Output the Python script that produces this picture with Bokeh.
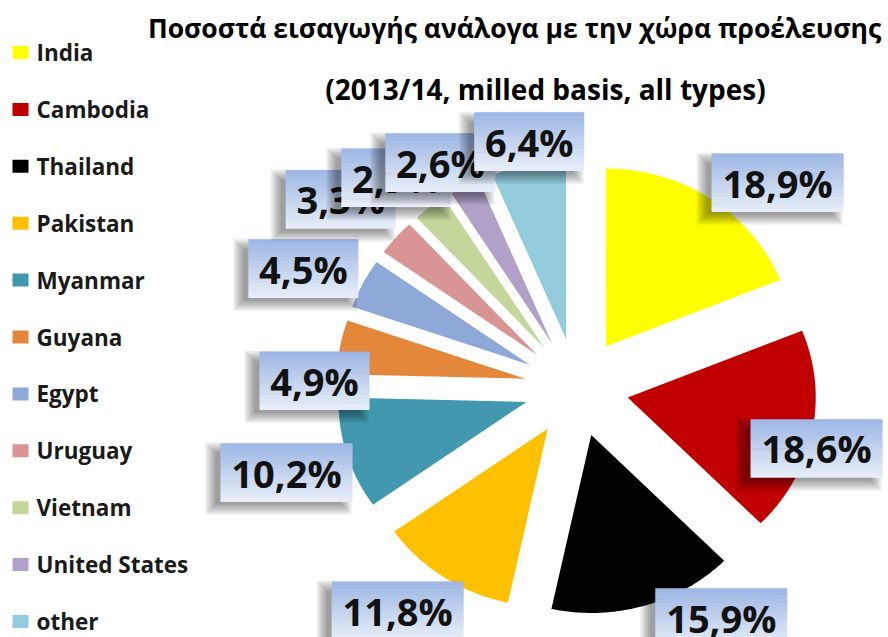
import numpy as np
from bokeh.plotting import figure
from bokeh.models import Range1d
from bokeh.core.properties import value
from bokeh.embed import file_html
from bokeh.resources import INLINE

# ---------------- data ----------------
countries = ["India", "Cambodia", "Thailand", "Pakistan", "Myanmar", "Guyana",
             "Egypt", "Uruguay", "Vietnam", "United States", "other"]
shares = [18.9, 18.6, 15.9, 11.8, 10.2, 4.9, 4.5, 3.3, 2.9, 2.6, 6.4]
colors = ["#FFFF00", "#C00000", "#000000", "#FFC000", "#4198AF", "#E3883A",
          "#8EA9D8", "#D99594", "#C3D69B", "#B1A0C7", "#93CDDD"]
title_text = "Ποσοστά εισαγωγής ανάλογα με την χώρα προέλευσης"
subtitle_text = "(2013/14, milled basis, all types)"

# ---------------- layout ----------------
W, H = 888, 637
CX, CY = 576, 250          # pie centre (plot units, y up)
RX, RY = 188, 178          # pie radii (source chart is slightly stretched)
EXPLODE = 0.278            # explosion as fraction of radius
label_nudge = [8.9, 3.5, -14.4, 3.7, -0.3, -8.7, -2.5, -1.1, -1.5, -2.1, 1.2]
label_dist = [1.571, 1.322, 1.505, 1.574, 1.615, 1.394, 1.599, 1.640, 1.519, 1.456, 1.404]
FONT = "Open Sans"

p = figure(width=W, height=H, output_backend="svg", toolbar_location=None,
           x_axis_type=None, y_axis_type=None, min_border=0,
           x_range=Range1d(0, W), y_range=Range1d(0, H))
p.grid.visible = False
p.outline_line_color = None
p.background_fill_color = "white"

# ---------------- pie ----------------
vals = np.array(shares, dtype=float)
frac = vals / vals.sum()
ends = np.cumsum(frac) * 2 * np.pi
starts = ends - frac * 2 * np.pi
xs, ys = [], []
for s, e in zip(starts, ends):
    mid = (s + e) / 2
    ax = CX + EXPLODE * RX * np.sin(mid)
    ay = CY + EXPLODE * RY * np.cos(mid)
    t = np.linspace(s, e, 90)
    xs.append(list(np.concatenate([[ax], ax + RX * np.sin(t)])))
    ys.append(list(np.concatenate([[ay], ay + RY * np.cos(t)])))
p.patches(xs, ys, fill_color=colors, line_color=None)

# ---------------- data labels ----------------
def fmt(v):
    return f"{v:.1f}".replace(".", ",") + "%"

top_c = np.array([0x9F, 0xB8, 0xE5])
bot_c = np.array([0xE6, 0xED, 0xF8])
NSTRIP = 16
for i, v in enumerate(shares):
    mid = (starts[i] + ends[i]) / 2 + np.radians(label_nudge[i])
    lx = CX + label_dist[i] * RX * np.sin(mid)
    ly = CY + label_dist[i] * RY * np.cos(mid)
    txt = fmt(v)
    bw = 22 + 22 * len(txt)
    bh = 58
    # soft shadow
    for k in range(6):
        p.rect(x=[lx - 8], y=[ly - 6], width=[bw - 6 + 4 * k], height=[bh - 6 + 4 * k],
               fill_color="black", fill_alpha=0.075, line_color=None)
    # gradient box
    sh = bh / NSTRIP
    sx_, sy_, sc_ = [], [], []
    for k in range(NSTRIP):
        f = k / (NSTRIP - 1)
        c = (top_c * (1 - f) + bot_c * f).astype(int)
        sx_.append(lx)
        sy_.append(ly + bh / 2 - sh * (k + 0.5))
        sc_.append("#%02x%02x%02x" % tuple(c))
    p.rect(x=sx_, y=sy_, width=bw, height=sh + 0.6, fill_color=sc_, line_color=None)
    p.text(x=[lx], y=[ly], text=[txt], text_font=value(FONT), text_font_style="bold",
           text_font_size="38px", text_align="center", text_baseline="middle",
           text_color="#111111")

# ---------------- legend ----------------
LEG_TOP = 637 - 52.0
LEG_STEP = 56.9
leg_y = [LEG_TOP - i * LEG_STEP for i in range(len(countries))]
p.rect(x=[20] * len(countries), y=leg_y, width=16, height=13, fill_color=colors, line_color=None)
p.text(x=[36] * len(countries), y=leg_y, text=countries, text_font=value(FONT),
       text_font_style="bold", text_font_size="22.5px", text_align="left",
       text_baseline="middle", text_color="#1a1a1a")

# ---------------- titles ----------------
p.text(x=[514], y=[637 - 27], text=[title_text], text_font=value(FONT),
       text_font_style="bold", text_font_size="26.5px", text_align="center",
       text_baseline="middle", text_color="black")
p.text(x=[545], y=[637 - 88], text=[subtitle_text], text_font=value(FONT),
       text_font_style="bold", text_font_size="28px", text_align="center",
       text_baseline="middle", text_color="black")

open("out.html", "w").write(file_html(p, INLINE))
